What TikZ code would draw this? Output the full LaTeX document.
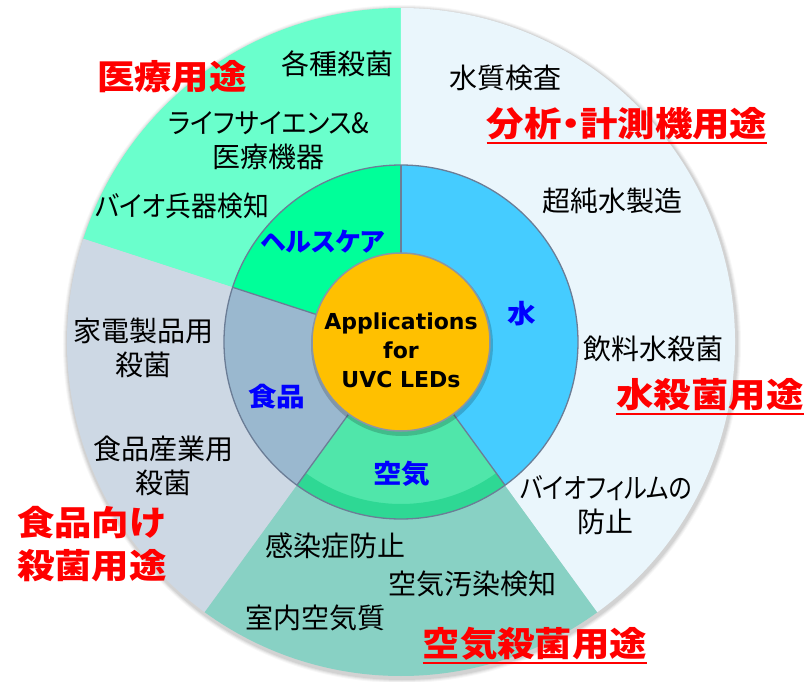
\documentclass[tikz,border=0pt]{standalone}
\usepackage{fontspec}
\newfontfamily\jp[RawFeature=+palt]{Noto Sans CJK JP}
\newfontfamily\jpn[RawFeature=+palt,FakeStretch=0.92]{Noto Sans CJK JP}
\newfontfamily\jpnn[RawFeature=+palt,FakeStretch=0.86]{Noto Sans CJK JP}
\newfontfamily\jpb[RawFeature=+palt,FakeStretch=1.1]{Noto Sans CJK JP}
\newfontfamily\jpbk[RawFeature=+palt,FakeStretch=1.0]{Noto Sans CJK JP}
\newfontfamily\lat{DejaVu Sans}
\definecolor{cMed}{HTML}{6AFFCC}
\definecolor{cAna}{HTML}{EAF6FC}
\definecolor{cFood}{HTML}{CDD8E4}
\definecolor{cAir}{HTML}{88D1C4}
\definecolor{mHealth}{HTML}{00FF99}
\definecolor{mWater}{HTML}{45CCFF}
\definecolor{mFood}{HTML}{9AB8CF}
\definecolor{mAir}{HTML}{50E6AA}
\definecolor{mAirDark}{HTML}{2ED894}
\definecolor{cCore}{HTML}{FFC000}
\definecolor{ringLine}{HTML}{6B7D96}
\definecolor{coreLine}{HTML}{8A96A6}
\definecolor{lblBlue}{HTML}{0000FF}
\definecolor{lblRed}{HTML}{FF0000}
\begin{document}
\begin{tikzpicture}[x=1pt,y=1pt,
  item/.style={inner sep=0pt,align=center,text=black,font=\jp\fontsize{28}{34}\selectfont},
  usage/.style={inner sep=0pt,align=center,text=lblRed,font=\jpb\bfseries\fontsize{34}{43}\selectfont},
  segname/.style={inner sep=0pt,align=center,text=lblBlue,font=\jpb\bfseries\fontsize{26}{30}\selectfont},
  uline/.style={draw=lblRed,line width=2pt},
  ringline/.style={draw=ringLine,line width=1.3pt}]
\useasboundingbox (-401,-339) rectangle (406,342);
\fill[white] (-401,-339) rectangle (406,342);
% soft shadow of outer disc
\foreach \r/\o in {339/0.03,338/0.04,337/0.05,336/0.06}
  \fill[black,opacity=\o] (1,-2) circle (\r);
% outer sectors
\fill[cMed]  (0,0) -- (90:334)  arc[start angle=90, end angle=162,radius=334] -- cycle;
\fill[cFood] (0,0) -- (162:334) arc[start angle=162,end angle=234,radius=334] -- cycle;
\fill[cAir]  (0,0) -- (234:334) arc[start angle=234,end angle=306,radius=334] -- cycle;
\fill[cAna]  (0,0) -- (306:334) arc[start angle=306,end angle=450,radius=334] -- cycle;
% middle ring sectors
\fill[mHealth] (0,0) -- (90:177)  arc[start angle=90, end angle=162,radius=177] -- cycle;
\fill[mFood]   (0,0) -- (162:177) arc[start angle=162,end angle=234,radius=177] -- cycle;
\fill[mAir]    (0,0) -- (234:177) arc[start angle=234,end angle=306,radius=177] -- cycle;
\fill[mWater]  (0,0) -- (306:177) arc[start angle=306,end angle=450,radius=177] -- cycle;
\fill[mAirDark] (234:162) arc[start angle=234,end angle=306,radius=162] -- (306:177)
  arc[start angle=306,end angle=234,radius=177] -- cycle;
\draw[ringline] (0,0) circle (177);
\foreach \a in {90,162,234,306} \draw[ringline] (\a:89) -- (\a:177);
% core
\fill[black,opacity=0.18] (1,-3) circle (91);
\node[circle,minimum size=178pt,inner sep=0pt,fill=cCore,draw=coreLine,line width=1.5pt] (core) at (0,0) {};
\node[inner sep=0pt,align=center,font=\lat\bfseries\fontsize{22}{29}\selectfont] (coretext) at (0,-8) {Applications\\for\\UVC LEDs};
% segment names
\node[segname,font=\jpbk\bfseries\fontsize{26}{30}\selectfont] (health) at (-78,100) {ヘルスケア};
\node[segname] (water) at (121,28) {水};
\node[segname] (food) at (-124,-55) {食品};
\node[segname] (air) at (1,-132) {空気};
% items
\node[item] (i1) at (-63,278) {各種殺菌};
\node[item] (i2) at (-132,201.5) {{\jpn ライフサイエンス\&}\\医療機器};
\node[item] (i3) at (-219,136) {{\jpn バイオ兵器検知}};
\node[item] (i4) at (105,264) {水質検査};
\node[item] (i5) at (212,141) {超純水製造};
\node[item] (i6) at (253,-7) {飲料水殺菌};
\node[item] (i7) at (205,-163.5) {{\jpnn バイオフィルムの}\\防止};
\node[item] (i8) at (-257,-5.5) {家電製品用\\殺菌};
\node[item] (i9) at (-237,-124) {食品産業用\\殺菌};
\node[item] (i10) at (-65,-204) {感染症防止};
\node[item] (i11) at (72,-242) {空気汚染検知};
\node[item] (i12) at (-85,-276) {室内空気質};
% usage labels
\node[usage] (u1) at (-229,265) {医療用途};
\node[usage] (u2) at (226,218) {分析・計測機用途};
\node[usage] (u3) at (309,-53) {水殺菌用途};
\node[usage] (u4) at (134,-302) {空気殺菌用途};
\node[usage,anchor=west,align=left] (u5) at (-384,-202.5) {食品向け\\殺菌用途};
\foreach \n in {u2,u3,u4}
  \draw[uline] ([yshift=-2.5pt]\n.south west) -- ([yshift=-2.5pt]\n.south east);
\end{tikzpicture}
\end{document}
